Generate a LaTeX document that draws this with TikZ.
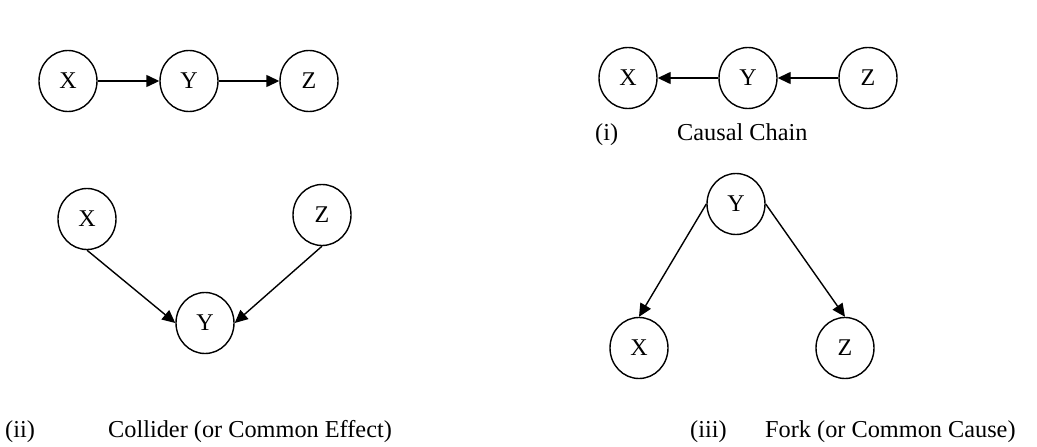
\documentclass[tikz,border=0pt]{standalone}
\usepackage{fontspec}
\setmainfont{Liberation Serif}
\usetikzlibrary{shapes,arrows.meta}

\begin{document}
\begin{tikzpicture}[x=1pt,y=-1pt,
varnode/.style={ellipse, draw=black, line width=1.4pt, minimum width=58pt, minimum height=61pt, inner sep=0pt, font=\fontsize{24}{29}\selectfont},
causal arrow/.style={-{Triangle[length=13pt,width=12pt]}, line width=1.4pt},
caption/.style={anchor=base west, inner sep=0pt, font=\fontsize{24.3}{29}\selectfont}
]
\useasboundingbox (0,0) rectangle (1037,447);

%Nodes
\node[varnode] at (68,81) (X-1) {X};
\node[varnode] at (189,81) (Y-1) {Y};
\node[varnode] at (309,81) (Z-1) {Z};

\node[varnode] at (628,78) (X-2) {X};
\node[varnode] at (748,78) (Y-2) {Y};
\node[varnode] at (868,78) (Z-2) {Z};

\node[varnode] at (87,219) (X-3) {X};
\node[varnode] at (322,215) (Z-3) {Z};
\node[varnode] at (205,323) (Y-3) {Y};

\node[varnode] at (736,204) (Y-4) {Y};
\node[varnode] at (639,348) (X-4) {X};
\node[varnode] at (845,348) (Z-4) {Z};

%Captions
\node[caption] at (595,140) (NUM-1) {(i)};
\node[caption] at (677,140) (CAP-1) {Causal Chain};
\node[caption] at (5,437) (NUM-2) {(ii)};
\node[caption] at (108,437) (CAP-2) {Collider (or Common Effect)};
\node[caption] at (690,437) (NUM-3) {(iii)};
\node[caption] at (765,437) (CAP-3) {Fork (or Common Cause)};

%Lines
\draw[causal arrow] (X-1) -- (Y-1);
\draw[causal arrow] (Y-1) -- (Z-1);

\draw[causal arrow] (Y-2) -- (X-2);
\draw[causal arrow] (Z-2) -- (Y-2);

\draw[causal arrow] (X-3.south) -- (Y-3.west);
\draw[causal arrow] (Z-3.south) -- (Y-3.east);

\draw[causal arrow] (Y-4.west) -- (X-4.north);
\draw[causal arrow] (Y-4.east) -- (Z-4.north);
\end{tikzpicture}
\end{document}
